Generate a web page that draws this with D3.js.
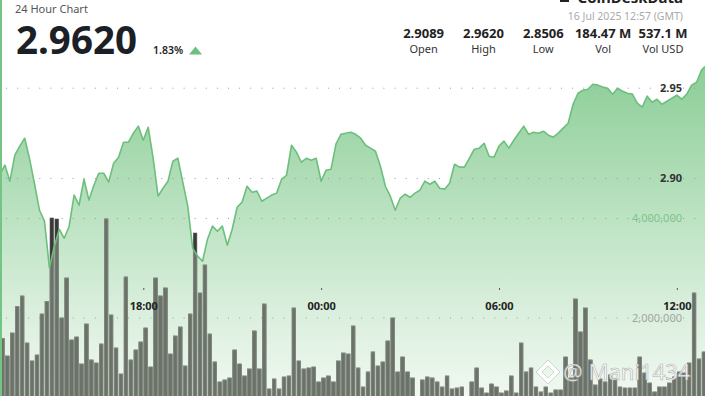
<!DOCTYPE html>
<html>
<head>
<meta charset="utf-8">
<script src="https://cdn.jsdelivr.net/npm/d3@7"></script>
<style>
body { margin: 0; background: #fff; }
svg { display: block; font-family: "Noto Sans", sans-serif; }
</style>
</head>
<body>
<svg id="chart" width="705" height="396"></svg>
<script>
// price every 10 minutes from 13:10 (15 Jul) plus the last quote at 12:57 (16 Jul)
const prices = [
  2.9024,2.9074,2.8985,2.9129,2.9179,2.9223,2.9107,2.8968,2.8824,2.8764,
  2.8506,2.8625,2.8719,2.8669,2.8736,2.8908,2.8852,2.8996,2.8880,2.8963,
  2.9029,2.9029,2.8980,2.9085,2.9118,2.9201,2.9201,2.9251,2.9290,2.9212,
  2.9284,2.9112,2.8902,2.8946,2.8985,2.9096,2.9112,2.8980,2.8847,2.8614,
  2.8570,2.8542,2.8664,2.8736,2.8708,2.8736,2.8631,2.8719,2.8841,2.8869,
  2.8957,2.8924,2.8930,2.8874,2.8891,2.8908,2.8919,2.8996,2.9018,2.9184,
  2.9146,2.9090,2.9112,2.9101,2.9112,2.8985,2.9046,2.9051,2.9190,2.9245,
  2.9251,2.9256,2.9245,2.9223,2.9184,2.9168,2.9151,2.9068,2.8957,2.8902,
  2.8824,2.8891,2.8913,2.8896,2.8919,2.8935,2.8985,2.8968,2.8985,2.8946,
  2.8941,2.8974,2.9079,2.9063,2.9063,2.9112,2.9162,2.9168,2.9195,2.9123,
  2.9118,2.9179,2.9207,2.9168,2.9212,2.9251,2.9290,2.9245,2.9256,2.9251,
  2.9262,2.9240,2.9229,2.9251,2.9279,2.9306,2.9411,2.9472,2.9489,2.9494,
  2.9522,2.9517,2.9506,2.9500,2.9467,2.9500,2.9483,2.9472,2.9467,2.9417,
  2.9395,2.9456,2.9422,2.9439,2.9411,2.9428,2.9445,2.9461,2.9439,2.9467,
  2.9517,2.9533,2.9600,2.9620
];

// volume per 10 minute bar
const volumes = [
  1592000,1236000,1698000,2227000,2442000,1497000,1136000,1256000,2080000,2328000,
  4010000,3990000,2000000,2804000,1558000,1618000,1075000,1879000,1156000,1095000,
  1477000,3990000,2060000,1397000,874000,2824000,1156000,1357000,1518000,1799000,
  1015000,2804000,2442000,2603000,1276000,1638000,1819000,1035000,2080000,3708000,
  2502000,3065000,1678000,1116000,714000,754000,794000,1357000,1075000,834000,
  975000,1739000,975000,2281000,573000,774000,573000,814000,834000,2201000,
  1136000,975000,995000,1015000,714000,794000,834000,714000,1136000,1296000,
  1276000,1839000,995000,613000,915000,1317000,1035000,1116000,1538000,2000000,
  915000,1216000,915000,794000,352000,754000,814000,794000,714000,613000,
  834000,573000,593000,613000,352000,714000,995000,593000,492000,673000,
  613000,492000,533000,834000,492000,1497000,915000,995000,613000,513000,
  613000,492000,553000,553000,1216000,794000,2382000,1719000,2201000,1156000,
  653000,774000,714000,854000,754000,613000,593000,593000,593000,1216000,
  894000,693000,513000,613000,613000,693000,814000,915000,894000,1095000,
  2502000,1176000,1317000
];

const priceTicks = [2.90, 2.95];
const volumeTicks = [2000000, 4000000];
const timeTicks = [
  new Date(Date.UTC(2025, 6, 15, 18, 0)),
  new Date(Date.UTC(2025, 6, 16, 0, 0)),
  new Date(Date.UTC(2025, 6, 16, 6, 0)),
  new Date(Date.UTC(2025, 6, 16, 12, 0))
];

const statValues = ["2.9089", "2.9620", "2.8506", "184.47 M", "537.1 M"];
const statLabels = ["Open", "High", "Low", "Vol", "Vol USD"];

const startTime = Date.UTC(2025, 6, 15, 13, 10);
const endTime = Date.UTC(2025, 6, 16, 12, 57);
const step = 10 * 60 * 1000;

let priceData = prices.map(function (p, i) {
  let t = i < prices.length - 1 ? new Date(startTime + i * step) : new Date(endTime);
  return {t: t, p: p};
});
let volData = volumes.map(function (v, i) {
  return {t: new Date(startTime + i * step), v: v};
});

const svg = d3.select('#chart');
const width = 705, height = 396;

let x = d3.scaleUtc().domain([startTime, endTime]).range([0, width]);
let yPrice = d3.scaleLinear().domain([2.90, 2.95]).range([178.5, 88.2]);
let yVol = d3.scaleLinear().domain([0, 4000000]).range([417.5, 218.5]);

let defs = svg.append('defs');
let grad = defs.append('linearGradient')
  .attr('id', 'areaGrad')
  .attr('gradientUnits', 'userSpaceOnUse')
  .attr('x1', 0).attr('y1', 65).attr('x2', 0).attr('y2', height);
grad.append('stop').attr('offset', 0).attr('stop-color', '#8ccd97');
grad.append('stop').attr('offset', 0.47).attr('stop-color', '#bde3c3');
grad.append('stop').attr('offset', 0.72).attr('stop-color', '#d8eedb');
grad.append('stop').attr('offset', 1).attr('stop-color', '#f0f8f1');

let area = d3.area()
  .x(function (d) { return x(d.t); })
  .y0(height)
  .y1(function (d) { return yPrice(d.p); });
let line = d3.line()
  .x(function (d) { return x(d.t); })
  .y(function (d) { return yPrice(d.p); });

defs.append('clipPath').attr('id', 'areaClip')
  .append('path').attr('d', area(priceData));

svg.append('path')
  .attr('d', area(priceData))
  .attr('fill', 'url(#areaGrad)');

// dotted grid lines
let grid = svg.append('g');
priceTicks.forEach(function (p) {
  grid.append('line')
    .attr('x1', 6).attr('x2', width)
    .attr('y1', yPrice(p)).attr('y2', yPrice(p));
});
volumeTicks.forEach(function (v) {
  grid.append('line')
    .attr('x1', 6).attr('x2', width)
    .attr('y1', yVol(v)).attr('y2', yVol(v));
});
grid.selectAll('line')
  .attr('stroke', '#9a9a9a')
  .attr('stroke-width', 1)
  .attr('stroke-dasharray', '1 10.1');

// volume bars: dark where they stick out of the area, grey inside it
function bars(g, fill, stroke) {
  g.selectAll('rect')
    .data(volData)
    .enter().append('rect')
    .attr('x', function (d) { return x(d.t) + 0.6; })
    .attr('width', 3.6)
    .attr('y', function (d) { return yVol(d.v); })
    .attr('height', function (d) { return yVol(0) - yVol(d.v); })
    .attr('fill', fill)
    .attr('stroke', stroke)
    .attr('stroke-width', 0.6);
}
bars(svg.append('g'), '#383a38', '#555');
bars(svg.append('g').attr('clip-path', 'url(#areaClip)'), '#6b7369', '#8f978e');

svg.append('path')
  .attr('d', line(priceData))
  .attr('fill', 'none')
  .attr('stroke', '#6cbf7c')
  .attr('stroke-width', 1.6)
  .attr('stroke-linejoin', 'round');

// right side labels
svg.selectAll('.plabel')
  .data(priceTicks)
  .enter().append('text')
  .attr('class', 'plabel')
  .attr('x', 682)
  .attr('y', function (d) { return yPrice(d); })
  .attr('dy', '0.36em')
  .attr('text-anchor', 'end')
  .attr('font-size', 11)
  .attr('font-weight', 'bold')
  .attr('fill', '#333')
  .text(function (d) { return d.toFixed(2); });

svg.selectAll('.vlabel')
  .data(volumeTicks)
  .enter().append('text')
  .attr('class', 'vlabel')
  .attr('x', 682)
  .attr('y', function (d) { return yVol(d); })
  .attr('dy', '0.36em')
  .attr('text-anchor', 'end')
  .attr('font-size', 11)
  .attr('fill', function (d) { return d === 4000000 ? '#7cc48a' : '#a3a3a3'; })
  .text(function (d) { return d3.format(',')(d); });

// time axis
let xAxis = d3.axisBottom(x)
  .tickValues(timeTicks)
  .tickFormat(d3.utcFormat('%H:%M'))
  .tickSize(2)
  .tickPadding(12);
let xg = svg.append('g')
  .attr('transform', 'translate(0,288)')
  .call(xAxis)
  .attr('font-family', null)
  .attr('font-size', 11);
xg.select('.domain').remove();
xg.selectAll('line').attr('stroke', '#555');
xg.selectAll('text')
  .attr('font-weight', 'bold')
  .attr('fill', '#222');

// left accent bar
svg.append('rect')
  .attr('x', 0).attr('y', 0)
  .attr('width', 2).attr('height', height)
  .attr('fill', '#74c585');

// header
svg.append('text')
  .attr('x', 15).attr('y', 13)
  .attr('font-size', 11)
  .attr('fill', '#555')
  .text('24 Hour Chart');

svg.append('text')
  .attr('x', 16).attr('y', 54)
  .attr('font-size', 39)
  .attr('font-weight', 'bold')
  .attr('fill', '#1b2026')
  .attr('textLength', 121)
  .attr('lengthAdjust', 'spacingAndGlyphs')
  .text(prices[prices.length - 1].toFixed(4));

svg.append('text')
  .attr('x', 153).attr('y', 54)
  .attr('font-size', 10.5)
  .attr('font-weight', 600)
  .attr('fill', '#222')
  .text('1.83%');

svg.append('path')
  .attr('d', 'M189,54.5 L202,54.5 L195.5,46.5 Z')
  .attr('fill', '#6cc07d');

let statX = d3.scalePoint().domain(statLabels).range([423.6, 663]);
statValues.forEach(function (v, i) {
  svg.append('text')
    .attr('x', statX(statLabels[i])).attr('y', 38)
    .attr('text-anchor', 'middle')
    .attr('font-size', 13)
    .attr('font-weight', 'bold')
    .attr('fill', '#222')
    .text(v);
  svg.append('text')
    .attr('x', statX(statLabels[i])).attr('y', 53)
    .attr('text-anchor', 'middle')
    .attr('font-size', 11)
    .attr('fill', '#333')
    .text(statLabels[i]);
});

svg.append('text')
  .attr('x', 683).attr('y', 20)
  .attr('text-anchor', 'end')
  .attr('font-size', 10.5)
  .attr('fill', '#aaa')
  .text('16 Jul 2025 12:57 (GMT)');

// logo, cut off by the top edge
svg.append('rect')
  .attr('x', 560).attr('y', -8)
  .attr('width', 9).attr('height', 10)
  .attr('fill', '#222');
svg.append('text')
  .attr('x', 683).attr('y', 3)
  .attr('text-anchor', 'end')
  .attr('font-size', 15)
  .attr('font-weight', 'bold')
  .attr('fill', '#222')
  .text('CoinDeskData');

// watermark
let wm = svg.append('g').attr('opacity', 0.9);
wm.append('path')
  .attr('d', 'M548,360 L560,372 L548,384 L536,372 Z M548,366 L554,372 L548,378 L542,372 Z')
  .attr('fill', '#fff')
  .attr('fill-rule', 'evenodd')
  .attr('stroke', '#b5b5b5')
  .attr('stroke-width', 0.6);
wm.append('text')
  .attr('x', 563).attr('y', 380)
  .attr('font-size', 22)
  .attr('fill', '#fff')
  .attr('stroke', '#a8a8a8')
  .attr('stroke-width', 0.6)
  .text('@ Mani1434');
</script>
</body>
</html>
